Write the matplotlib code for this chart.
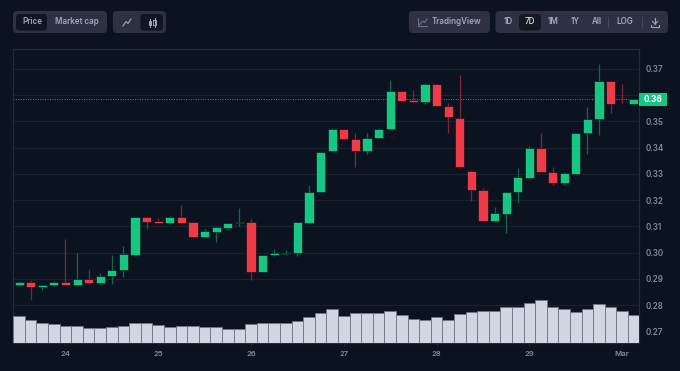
import matplotlib
matplotlib.use('Agg')
import matplotlib.pyplot as plt
from matplotlib.patches import FancyBboxPatch, Rectangle
from matplotlib.transforms import blended_transform_factory

# Font
plt.rcParams['font.family'] = ['Inter', 'DejaVu Sans']

# 3 hourly candles
opens = [.2875, .2889, .2868, .2875, .2889, .2878, .2899, .2883, .2909, .2932, .2990, .3134, .3120, .3113,
         .3136, .3116, .3059, .3080, .3093, .3111, .3116, .2925, .2991, .2995, .2997, .3113, .3229, .3385,
         .3470, .3432, .3388, .3436, .3469, .3616, .3581, .3573, .3642, .3560, .3514, .3310, .3238, .3122,
         .3148, .3229, .3285, .3400, .3307, .3265, .3301, .3454, .3509, .3652, .3566, .3564]
closes = [.2889, .2868, .2878, .2889, .2878, .2899, .2883, .2911, .2934, .2993, .3134, .3116, .3113, .3136,
          .3113, .3059, .3083, .3096, .3113, .3116, .2925, .2989, .2999, .2999, .3116, .3230, .3384, .3470,
          .3431, .3388, .3437, .3470, .3616, .3578, .3574, .3642, .3559, .3515, .3327, .3237, .3122, .3149,
          .3231, .3287, .3400, .3306, .3265, .3302, .3456, .3509, .3652, .3565, .3564, .3584]
highs = [.2891, .2896, .2878, .2890, .3050, .2999, .2938, .2922, .2991, .3024, .3134, .3134, .3131, .3141,
         .3183, .3116, .3088, .3096, .3113, .3168, .3126, .2989, .3014, .3008, .3118, .3259, .3384, .3475,
         .3470, .3456, .3456, .3475, .3659, .3616, .3621, .3647, .3642, .3568, .3677, .3310, .3246, .3175,
         .3231, .3321, .3406, .3457, .3325, .3306, .3456, .3553, .3717, .3652, .3642, .3584]
lows = [.2872, .2821, .2859, .2872, .2878, .2877, .2882, .2882, .2882, .2908, .2985, .3091, .3113, .3108,
        .3108, .3059, .3059, .3040, .3085, .3101, .2894, .2925, .2986, .2989, .2986, .3113, .3229, .3385,
        .3431, .3325, .3375, .3436, .3469, .3578, .3574, .3565, .3559, .3456, .3321, .3198, .3122, .3122,
        .3076, .3188, .3285, .3306, .3259, .3259, .3301, .3377, .3449, .3530, .3564, .3561]
volumes = [26.7, 22.7, 19.7, 19.0, 17.0, 17.0, 15.0, 15.0, 16.0, 17.0, 20.3, 19.7, 18.0, 16.3, 17.0, 17.0, 16.3, 16.3,
           13.7, 14.3, 19.0, 20.3, 19.7, 19.7, 22.3, 25.7, 30.3, 33.7, 27.0, 29.7, 29.7, 30.3, 32.3, 27.7, 24.3, 23.0,
           25.7, 23.0, 29.0, 31.0, 31.7, 32.3, 35.7, 36.3, 39.7, 43.0, 35.7, 34.3, 31.0, 33.7, 39.0, 36.3, 32.3, 28.3]
price_ticks = [.27, .28, .29, .30, .31, .32, .33, .34, .35, .36, .37]
price_labels = ['0.27', '0.28', '0.29', '0.30', '0.31', '0.32', '0.33', '0.34', '0.35', '', '0.37']  # 0.36 is under the price tag
day_ticks = [4, 12, 20, 28, 36, 44, 52]
day_labels = ['24', '25', '26', '27', '28', '29', 'Mar']
last_price = .3584

# Colors
bg = '#0b1320'
grid = '#1a2230'
frame = '#232a38'
green = '#16c784'
red = '#ef3a47'
green_wick = '#12694f'
red_wick = '#7c2733'
txt = '#808a9d'
group_col = '#2d3142'
btn_dark = '#0e1523'
btn_txt = '#a3a8b8'

W, H = 680., 371.
fig = plt.figure(figsize=(6.8, 3.71), dpi=100, facecolor=bg)

# Buttons on top of the chart, in pixels
ui = fig.add_axes([0, 0, 1, 1], zorder=0)
ui.set_xlim(0, W)
ui.set_ylim(H, 0)
ui.axis('off')

def box(x0, x1, y0, y1, color, r=4):
    ui.add_patch(FancyBboxPatch((x0 + r, y0 + r), x1 - x0 - 2*r, y1 - y0 - 2*r, boxstyle='round,pad=%g,rounding_size=%g' % (r, r),
                                fc=color, ec='none', mutation_aspect=1))

def label(x, s, color=btn_txt):
    ui.text(x, 22, s, color=color, fontsize=5.8, fontweight='semibold', ha='center', va='center')

box(13, 107, 11, 33, group_col)
box(16, 47, 14, 30.5, btn_dark, 3)
box(113, 166, 11, 33, group_col)
box(140.5, 163, 14, 30.5, btn_dark, 3)
box(409, 490, 11, 33, group_col)
box(495.5, 668, 11, 33, group_col)
box(519, 541, 14, 30.5, '#15191f', 4)
label(32, 'Price')
label(77, 'Market cap')
label(457, 'TradingView')
for x, s in zip([508, 530, 553, 575, 597, 625], ['1D', '7D', '1M', '1Y', 'All', 'LOG']):
    label(x, s, '#c4c7d2' if s == '7D' else btn_txt)

# Small icons and separators
ui.plot([123, 126, 128, 131], [26, 21.5, 23.5, 19], color=btn_txt, lw=0.8)
ui.plot([149.5, 149.5], [19, 26.5], color=btn_txt, lw=0.7)
ui.plot([154.5, 154.5], [18, 26.5], color=btn_txt, lw=0.7)
ui.add_patch(Rectangle((148.5, 20.5), 2.4, 4, fc=btn_dark, ec=btn_txt, lw=0.7))
ui.add_patch(Rectangle((153.3, 20), 2.4, 5, fc=btn_dark, ec=btn_txt, lw=0.7))
ui.plot([418, 418, 427], [18, 26, 26], color='#6d7283', lw=0.8)
ui.plot([419, 423, 424.5, 427], [25, 21, 22.5, 19], color='#6d7283', lw=0.8)
ui.plot([608, 608], [16.5, 27], color='#454a5c', lw=0.7)
ui.plot([641.5, 641.5], [16.5, 27], color='#454a5c', lw=0.7)
ui.plot([655, 655], [18, 24], color=btn_txt, lw=0.8)
ui.plot([652.5, 655, 657.5], [21.5, 24, 21.5], color=btn_txt, lw=0.8)
ui.plot([651, 651, 659, 659], [24.5, 26.5, 26.5, 24.5], color=btn_txt, lw=0.8)

# Price axes
pos = [13/W, 1 - 343/H, (639 - 13)/W, (343 - 49)/H]
ax = fig.add_axes(pos, zorder=1)
ax.set_facecolor('none')
ax.set_xlim(-0.52, 53.45)
ax.set_ylim(.26554, .37754)
ax.grid(axis='y', color=grid, lw=0.9)
ax.set_axisbelow(True)
for s in ax.spines.values():
    s.set_color(frame)
    s.set_linewidth(0.9)
ax.yaxis.tick_right()
ax.set_yticks(price_ticks)
ax.set_yticklabels(price_labels)
ax.set_xticks(day_ticks)
ax.set_xticklabels(day_labels)
ax.tick_params(axis='y', length=0, pad=4.5, labelsize=5.8, labelcolor=txt)
ax.tick_params(axis='x', length=2, width=0.6, color=frame, pad=3.5, labelsize=5.6, labelcolor=txt)
for t in ax.get_xticklabels() + ax.get_yticklabels():
    t.set_fontweight('semibold')

# Candles
for i in range(len(opens)):
    up = closes[i] >= opens[i]
    ax.vlines(i, lows[i], highs[i], color=green_wick if up else red_wick, lw=0.9, zorder=3)
    ax.bar(i, abs(closes[i] - opens[i]), bottom=min(opens[i], closes[i]), width=0.78, color=green if up else red,
           edgecolor='#060b12', linewidth=0.4, zorder=4)

# Last price line and label
ax.axhline(last_price, color='#5d8c87', lw=0.7, ls=(0, (1, 1.5)), zorder=2)
trans = blended_transform_factory(ax.transAxes, ax.transData)
ax.add_patch(Rectangle((1.0, last_price - .0025), 28/626., .005, transform=trans, fc=green, ec='none', clip_on=False, zorder=6))
ax.text(1.0 + 14/626., last_price - .00005, '%.2f' % last_price, transform=trans, color='white', fontsize=5.9, fontweight='bold',
        ha='center', va='center', zorder=7)

# Volume bars, on their own scale
ax_vol = fig.add_axes(pos, zorder=2, sharex=ax)
ax_vol.set_facecolor('none')
ax_vol.set_ylim(0, 294)
ax_vol.axis('off')
ax_vol.bar(range(len(volumes)), volumes, width=1.0, color='#d1d6e3', edgecolor='#6e7484', linewidth=0.6)

fig.savefig('out.png', dpi=100, facecolor=bg)
